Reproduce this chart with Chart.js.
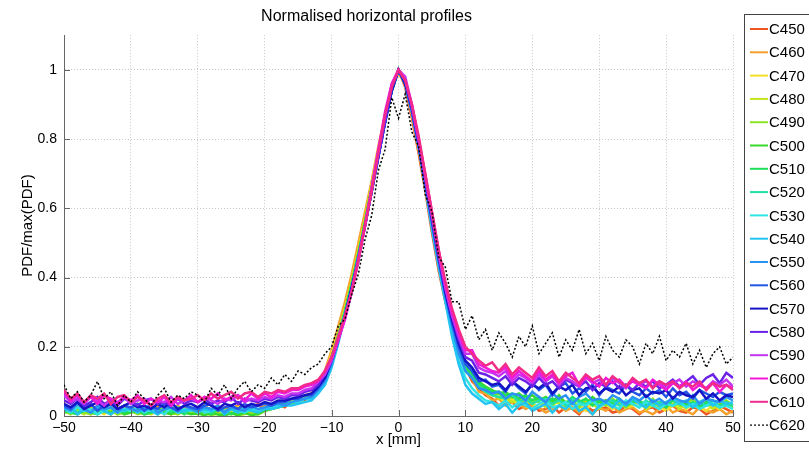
<!DOCTYPE html>
<html>
<head>
<meta charset="utf-8">
<script src="https://cdn.jsdelivr.net/npm/chart.js@4.4.1/dist/chart.umd.min.js"></script>
<style>
  body { margin: 0; background: #fff; }
  #wrap { width: 809px; height: 454px; }
</style>
</head>
<body>
<div id="wrap"><canvas id="chart"></canvas></div>
<script>
// x positions [mm]
const xMm = [
  -50,-49,-48,-47,-46,-45,-44,-43,-42,-41,
  -40,-39,-38,-37,-36,-35,-34,-33,-32,-31,
  -30,-29,-28,-27,-26,-25,-24,-23,-22,-21,
  -20,-19,-18,-17,-16,-15,-14,-13,-12,-11,
  -10,-9,-8,-7,-6,-5,-4,-3,-2,-1,
  0,
  1,2,3,4,5,6,7,8,9,10,
  11,12,13,14,15,16,17,18,19,20,
  21,22,23,24,25,26,27,28,29,30,
  31,32,33,34,35,36,37,38,39,40,
  41,42,43,44,45,46,47,48,49,50
];

const seriesNames = ['C450','C460','C470','C480','C490','C500','C510','C520','C530',
  'C540','C550','C560','C570','C580','C590','C600','C610','C620'];

const c450 = [
  0.03,0.02,0.035,0.01,0.015,0.03,0.025,0.005,0.02,0.03,
  0.015,0.025,0.01,0.02,0.03,0.015,0.005,0.02,0.025,0.01,
  0.02,0.03,0.015,0.01,0.025,0.02,0.03,0.01,0.02,0.035,
  0.02,0.03,0.035,0.025,0.04,0.05,0.045,0.065,0.08,0.12,
  0.18,0.25,0.32,0.40,0.48,0.58,0.67,0.77,0.86,0.95,
  1.00,
  0.95,0.86,0.76,0.65,0.53,0.42,0.33,0.25,0.19,0.14,
  0.10,0.08,0.06,0.05,0.03,0.045,0.04,0.02,0.03,0.035,
  0.015,0.02,0.03,0.01,0.025,0.02,0.005,0.03,0.015,0.02,
  0.025,0.01,0.015,0.03,0.02,0.005,0.02,0.025,0.01,0.02,
  0.03,0.015,0.01,0.025,0.02,0.005,0.015,0.03,0.02,0.01
];
const c460 = [
  0.025,0.01,0.03,0.02,0.005,0.025,0.03,0.015,0.01,0.025,
  0.02,0.035,0.01,0.015,0.025,0.005,0.02,0.03,0.015,0.02,
  0.01,0.025,0.02,0.03,0.01,0.015,0.03,0.02,0.025,0.015,
  0.03,0.025,0.04,0.035,0.045,0.04,0.06,0.065,0.09,0.13,
  0.19,0.26,0.33,0.41,0.50,0.59,0.68,0.78,0.87,0.95,
  0.99,
  0.96,0.87,0.77,0.66,0.55,0.43,0.34,0.26,0.19,0.14,
  0.11,0.07,0.065,0.045,0.05,0.03,0.04,0.035,0.02,0.03,
  0.025,0.01,0.02,0.03,0.015,0.025,0.01,0.02,0.005,0.025,
  0.015,0.03,0.01,0.02,0.025,0.01,0.015,0.005,0.02,0.03,
  0.01,0.02,0.015,0.005,0.025,0.015,0.01,0.02,0.005,0.015
];
const c470 = [
  0.015,0.025,0.01,0.02,0.03,0.015,0.005,0.02,0.025,0.01,
  0.02,0.015,0.03,0.01,0.02,0.025,0.005,0.015,0.02,0.01,
  0.025,0.015,0.01,0.02,0.005,0.015,0.025,0.01,0.02,0.015,
  0.025,0.03,0.03,0.04,0.04,0.05,0.055,0.065,0.08,0.12,
  0.18,0.24,0.31,0.39,0.48,0.57,0.67,0.77,0.86,0.94,
  1.00,
  0.96,0.88,0.78,0.67,0.56,0.45,0.35,0.27,0.20,0.15,
  0.12,0.09,0.07,0.06,0.055,0.04,0.05,0.03,0.045,0.035,
  0.025,0.04,0.03,0.045,0.02,0.035,0.03,0.015,0.04,0.03,
  0.035,0.02,0.045,0.025,0.03,0.04,0.02,0.035,0.025,0.015,
  0.03,0.035,0.02,0.04,0.025,0.015,0.03,0.02,0.035,0.025
];
const c480 = [
  0.01,0.02,0.015,0.005,0.025,0.01,0.02,0.015,0.005,0.02,
  0.015,0.01,0.02,0.005,0.015,0.02,0.01,0.005,0.015,0.02,
  0.01,0.005,0.015,0.01,0.02,0.005,0.01,0.015,0.005,0.015,
  0.02,0.025,0.03,0.035,0.04,0.045,0.05,0.06,0.08,0.11,
  0.17,0.24,0.31,0.39,0.47,0.57,0.67,0.77,0.86,0.95,
  1.00,
  0.97,0.88,0.79,0.68,0.57,0.46,0.36,0.27,0.20,0.15,
  0.12,0.085,0.075,0.065,0.05,0.055,0.04,0.05,0.03,0.045,
  0.04,0.025,0.05,0.035,0.03,0.045,0.025,0.04,0.035,0.02,
  0.045,0.03,0.04,0.025,0.035,0.045,0.02,0.03,0.04,0.025,
  0.035,0.02,0.04,0.03,0.025,0.04,0.02,0.035,0.03,0.025
];
const c490 = [
  0.015,0.005,0.02,0.01,0.005,0.015,0.01,0.02,0.005,0.01,
  0.015,0.005,0.01,0.02,0.005,0.015,0.01,0.005,0.015,0.01,
  0.005,0.01,0.002,0.008,0.003,0.01,0.002,0.006,0.012,0.004,
  0.015,0.02,0.025,0.03,0.035,0.04,0.05,0.06,0.08,0.11,
  0.17,0.23,0.30,0.38,0.47,0.56,0.66,0.76,0.86,0.94,
  1.00,
  0.97,0.89,0.79,0.68,0.57,0.46,0.36,0.27,0.20,0.15,
  0.12,0.09,0.08,0.06,0.065,0.05,0.055,0.045,0.06,0.035,
  0.05,0.04,0.03,0.055,0.04,0.045,0.025,0.05,0.035,0.04,
  0.03,0.05,0.035,0.025,0.045,0.04,0.03,0.05,0.025,0.04,
  0.045,0.03,0.035,0.05,0.025,0.04,0.035,0.03,0.045,0.03
];
const c500 = [
  0.01,0.015,0.005,0.02,0.01,0.005,0.015,0.01,0.02,0.005,
  0.01,0.015,0.005,0.01,0.02,0.01,0.005,0.015,0.01,0.005,
  0.008,0.002,0.01,0.004,0.002,0.008,0.003,0.01,0.002,0.006,
  0.015,0.02,0.025,0.03,0.04,0.04,0.05,0.06,0.08,0.12,
  0.17,0.23,0.30,0.38,0.47,0.56,0.66,0.76,0.85,0.94,
  1.00,
  0.97,0.89,0.80,0.69,0.58,0.47,0.37,0.28,0.21,0.15,
  0.13,0.10,0.085,0.075,0.065,0.07,0.055,0.065,0.05,0.06,
  0.045,0.055,0.04,0.06,0.035,0.05,0.045,0.03,0.055,0.04,
  0.045,0.035,0.05,0.03,0.045,0.04,0.025,0.045,0.035,0.04,
  0.03,0.045,0.035,0.025,0.04,0.03,0.045,0.025,0.035,0.03
];
const c510 = [
  0.02,0.01,0.005,0.015,0.02,0.01,0.015,0.005,0.02,0.01,
  0.015,0.02,0.005,0.01,0.015,0.02,0.01,0.015,0.005,0.02,
  0.01,0.015,0.005,0.02,0.01,0.005,0.015,0.01,0.02,0.01,
  0.02,0.025,0.03,0.035,0.04,0.045,0.05,0.06,0.085,0.12,
  0.17,0.23,0.30,0.38,0.46,0.56,0.66,0.76,0.85,0.94,
  1.00,
  0.96,0.89,0.79,0.68,0.57,0.46,0.36,0.27,0.20,0.14,
  0.12,0.095,0.08,0.07,0.07,0.06,0.065,0.05,0.06,0.045,
  0.055,0.04,0.05,0.045,0.035,0.055,0.04,0.05,0.03,0.045,
  0.04,0.035,0.05,0.03,0.04,0.045,0.03,0.04,0.035,0.025,
  0.045,0.035,0.03,0.04,0.025,0.04,0.035,0.03,0.04,0.03
];
const c520 = [
  0.015,0.025,0.01,0.02,0.015,0.005,0.02,0.025,0.01,0.015,
  0.02,0.01,0.025,0.015,0.005,0.02,0.015,0.025,0.01,0.02,
  0.015,0.02,0.01,0.025,0.015,0.02,0.01,0.015,0.025,0.015,
  0.02,0.03,0.03,0.035,0.04,0.045,0.05,0.055,0.08,0.11,
  0.16,0.23,0.30,0.37,0.46,0.55,0.65,0.75,0.85,0.94,
  1.00,
  0.96,0.88,0.78,0.67,0.56,0.45,0.35,0.26,0.19,0.13,
  0.11,0.085,0.07,0.06,0.055,0.05,0.06,0.04,0.05,0.035,
  0.045,0.05,0.035,0.045,0.03,0.05,0.04,0.035,0.045,0.03,
  0.04,0.045,0.03,0.04,0.035,0.025,0.045,0.03,0.04,0.035,
  0.03,0.04,0.025,0.035,0.04,0.03,0.035,0.025,0.04,0.03
];
const c530 = [
  0.02,0.01,0.025,0.015,0.02,0.005,0.015,0.025,0.01,0.02,
  0.015,0.025,0.01,0.02,0.015,0.005,0.025,0.01,0.02,0.015,
  0.025,0.01,0.015,0.02,0.01,0.025,0.015,0.01,0.02,0.015,
  0.02,0.025,0.03,0.03,0.04,0.04,0.05,0.05,0.07,0.10,
  0.15,0.22,0.29,0.37,0.46,0.55,0.65,0.75,0.85,0.94,
  1.00,
  0.96,0.88,0.78,0.67,0.55,0.44,0.34,0.24,0.16,0.11,
  0.08,0.06,0.045,0.04,0.03,0.045,0.025,0.04,0.03,0.02,
  0.035,0.045,0.025,0.03,0.04,0.02,0.035,0.03,0.045,0.025,
  0.04,0.03,0.02,0.045,0.035,0.025,0.04,0.03,0.02,0.035,
  0.03,0.04,0.025,0.035,0.02,0.03,0.04,0.025,0.03,0.02
];
const c540 = [
  0.015,0.025,0.005,0.02,0.01,0.025,0.015,0.005,0.02,0.015,
  0.025,0.01,0.02,0.015,0.005,0.02,0.025,0.01,0.015,0.02,
  0.01,0.02,0.015,0.025,0.005,0.02,0.01,0.025,0.015,0.01,
  0.02,0.02,0.025,0.03,0.03,0.035,0.04,0.045,0.065,0.09,
  0.14,0.21,0.29,0.37,0.46,0.55,0.65,0.75,0.85,0.94,
  1.00,
  0.96,0.88,0.78,0.66,0.54,0.43,0.33,0.23,0.15,0.09,
  0.065,0.05,0.035,0.04,0.02,0.035,0.01,0.03,0.04,0.015,
  0.025,0.035,0.01,0.03,0.02,0.04,0.015,0.025,0.005,0.03,
  0.04,0.025,0.045,0.03,0.05,0.035,0.025,0.045,0.03,0.04,
  0.05,0.035,0.045,0.025,0.04,0.05,0.03,0.045,0.035,0.04
];
const c550 = [
  0.025,0.015,0.035,0.02,0.01,0.03,0.02,0.025,0.01,0.03,
  0.02,0.015,0.025,0.03,0.01,0.02,0.025,0.015,0.03,0.02,
  0.015,0.025,0.02,0.03,0.01,0.025,0.02,0.015,0.03,0.02,
  0.025,0.03,0.035,0.03,0.04,0.045,0.05,0.055,0.075,0.10,
  0.15,0.22,0.29,0.37,0.46,0.55,0.65,0.75,0.85,0.94,
  1.00,
  0.96,0.88,0.78,0.67,0.56,0.45,0.35,0.26,0.18,0.13,
  0.11,0.08,0.075,0.065,0.07,0.05,0.065,0.06,0.045,0.07,
  0.055,0.04,0.065,0.05,0.06,0.035,0.055,0.065,0.045,0.05,
  0.04,0.06,0.05,0.035,0.055,0.045,0.06,0.04,0.05,0.035,
  0.055,0.045,0.04,0.06,0.035,0.05,0.045,0.04,0.055,0.045
];
const c560 = [
  0.03,0.02,0.04,0.025,0.035,0.015,0.03,0.04,0.02,0.03,
  0.025,0.035,0.015,0.03,0.02,0.035,0.025,0.015,0.03,0.025,
  0.02,0.03,0.035,0.015,0.025,0.03,0.02,0.035,0.025,0.03,
  0.035,0.03,0.04,0.04,0.05,0.05,0.06,0.06,0.08,0.11,
  0.16,0.22,0.29,0.37,0.46,0.55,0.65,0.75,0.85,0.94,
  1.00,
  0.96,0.88,0.78,0.67,0.56,0.45,0.35,0.27,0.20,0.15,
  0.13,0.10,0.105,0.085,0.09,0.07,0.10,0.08,0.065,0.095,
  0.075,0.09,0.06,0.085,0.095,0.065,0.08,0.07,0.09,0.06,
  0.085,0.075,0.065,0.09,0.07,0.06,0.08,0.065,0.075,0.055,
  0.08,0.06,0.07,0.05,0.075,0.065,0.055,0.07,0.06,0.065
];
const c570 = [
  0.035,0.025,0.04,0.02,0.03,0.04,0.025,0.035,0.02,0.03,
  0.04,0.025,0.03,0.02,0.035,0.025,0.04,0.02,0.03,0.035,
  0.025,0.04,0.03,0.02,0.035,0.03,0.04,0.025,0.035,0.03,
  0.04,0.035,0.045,0.045,0.05,0.055,0.06,0.065,0.085,0.11,
  0.16,0.22,0.29,0.37,0.45,0.55,0.65,0.75,0.85,0.94,
  1.00,
  0.96,0.89,0.79,0.68,0.57,0.46,0.36,0.28,0.21,0.16,
  0.14,0.11,0.10,0.09,0.095,0.075,0.10,0.085,0.07,0.09,
  0.08,0.095,0.065,0.085,0.075,0.09,0.06,0.08,0.085,0.065,
  0.08,0.07,0.085,0.06,0.075,0.08,0.055,0.07,0.065,0.075,
  0.05,0.07,0.06,0.055,0.075,0.05,0.065,0.045,0.06,0.055
];
const c580 = [
  0.045,0.035,0.05,0.03,0.04,0.055,0.035,0.045,0.03,0.05,
  0.04,0.03,0.045,0.05,0.035,0.04,0.03,0.05,0.035,0.045,
  0.04,0.05,0.035,0.045,0.04,0.055,0.035,0.05,0.045,0.04,
  0.05,0.045,0.055,0.05,0.06,0.06,0.07,0.075,0.09,0.12,
  0.16,0.22,0.29,0.36,0.45,0.55,0.65,0.75,0.85,0.95,
  1.00,
  0.97,0.89,0.79,0.68,0.57,0.46,0.37,0.29,0.22,0.17,
  0.16,0.125,0.12,0.11,0.10,0.115,0.09,0.11,0.10,0.085,
  0.11,0.09,0.10,0.08,0.105,0.095,0.085,0.10,0.075,0.095,
  0.085,0.10,0.08,0.09,0.075,0.095,0.085,0.10,0.08,0.09,
  0.105,0.085,0.10,0.115,0.09,0.11,0.12,0.095,0.125,0.11
];
const c590 = [
  0.06,0.04,0.05,0.035,0.055,0.045,0.03,0.05,0.04,0.055,
  0.035,0.045,0.05,0.03,0.045,0.04,0.055,0.035,0.045,0.05,
  0.04,0.055,0.045,0.035,0.05,0.045,0.06,0.04,0.05,0.045,
  0.055,0.05,0.06,0.055,0.065,0.065,0.075,0.08,0.10,0.12,
  0.16,0.22,0.28,0.36,0.45,0.55,0.66,0.77,0.87,0.96,
  1.00,
  0.98,0.90,0.80,0.69,0.58,0.47,0.37,0.29,0.23,0.18,
  0.18,0.14,0.13,0.125,0.115,0.13,0.10,0.12,0.11,0.095,
  0.12,0.10,0.115,0.09,0.11,0.10,0.085,0.115,0.095,0.105,
  0.09,0.11,0.095,0.08,0.105,0.09,0.10,0.085,0.10,0.08,
  0.095,0.105,0.085,0.10,0.09,0.08,0.10,0.09,0.105,0.085
];
const c600 = [
  0.07,0.045,0.06,0.04,0.055,0.035,0.06,0.05,0.035,0.055,
  0.045,0.06,0.035,0.05,0.04,0.055,0.03,0.05,0.045,0.06,
  0.04,0.055,0.05,0.065,0.045,0.055,0.06,0.045,0.065,0.05,
  0.065,0.055,0.07,0.065,0.075,0.075,0.085,0.09,0.10,0.13,
  0.17,0.22,0.28,0.36,0.45,0.55,0.66,0.77,0.88,0.96,
  1.00,
  0.97,0.90,0.80,0.70,0.59,0.48,0.38,0.30,0.24,0.19,
  0.19,0.15,0.14,0.13,0.125,0.14,0.11,0.13,0.115,0.10,
  0.13,0.105,0.12,0.095,0.115,0.125,0.09,0.11,0.10,0.085,
  0.11,0.095,0.105,0.085,0.10,0.09,0.08,0.105,0.09,0.075,
  0.095,0.085,0.10,0.075,0.09,0.08,0.095,0.07,0.09,0.08
];
const c610 = [
  0.075,0.05,0.065,0.04,0.06,0.05,0.065,0.035,0.055,0.06,
  0.04,0.055,0.045,0.03,0.05,0.06,0.04,0.055,0.045,0.05,
  0.06,0.045,0.065,0.05,0.06,0.07,0.05,0.065,0.07,0.055,
  0.07,0.065,0.075,0.07,0.08,0.08,0.09,0.095,0.105,0.13,
  0.17,0.23,0.29,0.36,0.45,0.55,0.65,0.76,0.87,0.95,
  1.00,
  0.97,0.90,0.81,0.70,0.59,0.48,0.39,0.31,0.25,0.20,
  0.18,0.16,0.145,0.155,0.13,0.15,0.12,0.14,0.125,0.11,
  0.14,0.115,0.13,0.10,0.125,0.11,0.095,0.12,0.105,0.115,
  0.09,0.115,0.10,0.085,0.11,0.095,0.105,0.08,0.10,0.09,
  0.10,0.08,0.095,0.085,0.10,0.075,0.095,0.085,0.09,0.075
];
const c620 = [
  0.09,0.05,0.07,0.04,0.06,0.10,0.05,0.07,0.03,0.06,
  0.04,0.07,0.05,0.03,0.06,0.08,0.04,0.06,0.05,0.07,
  0.06,0.04,0.08,0.06,0.09,0.05,0.08,0.10,0.07,0.09,
  0.08,0.11,0.09,0.12,0.10,0.13,0.12,0.14,0.15,0.18,
  0.20,0.26,0.28,0.35,0.41,0.51,0.58,0.71,0.77,0.92,
  0.86,
  0.93,0.82,0.78,0.64,0.59,0.46,0.43,0.33,0.33,0.25,
  0.29,0.22,0.25,0.19,0.24,0.21,0.17,0.23,0.20,0.26,
  0.18,0.21,0.24,0.17,0.22,0.19,0.25,0.18,0.21,0.16,
  0.23,0.19,0.17,0.22,0.20,0.15,0.21,0.18,0.23,0.16,
  0.19,0.17,0.21,0.15,0.19,0.14,0.18,0.20,0.15,0.17
];

const seriesValues = [c450, c460, c470, c480, c490, c500, c510, c520, c530,
  c540, c550, c560, c570, c580, c590, c600, c610, c620];

const seriesColors = ['#ee5522','#f5a02a','#f2e02a','#c4e41c','#8ce428','#38d82a','#1fe058',
  '#22e0a6','#30e4e4','#22c4f2','#2a92f2','#2456e6','#1414c4','#6a22e6','#c434f0',
  '#f218d8','#f22a88','#000000'];

const xTicks = [-50,-40,-30,-20,-10,0,10,20,30,40,50];
const yTicks = [0,0.2,0.4,0.6,0.8,1];

const FONT = 'Liberation Sans, Arial, Helvetica, sans-serif';

let datasets = seriesNames.map((name, i) => ({
  label: name,
  data: xMm.map((x, k) => ({x: x, y: seriesValues[i][k]})),
  borderColor: seriesColors[i],
  backgroundColor: seriesColors[i],
  borderWidth: i === 17 ? 1.5 : 2.5,
  borderDash: i === 17 ? [2, 2] : [],
  pointRadius: 0,
  tension: 0,
  fill: false,
  order: seriesNames.length - i
}));

// MATLAB-like legend box and inward ticks
const extras = {
  id: 'extras',
  afterDraw(chart) {
    const ctx = chart.ctx;
    const area = chart.chartArea;
    const xs = chart.scales.x, ys = chart.scales.y;
    ctx.save();
    ctx.strokeStyle = '#666';
    ctx.lineWidth = 1;
    ctx.beginPath();
    xTicks.forEach(v => {
      const px = Math.round(xs.getPixelForValue(v)) + 0.5;
      ctx.moveTo(px, area.bottom);
      ctx.lineTo(px, area.bottom - 6);
    });
    yTicks.forEach(v => {
      const py = Math.round(ys.getPixelForValue(v)) + 0.5;
      ctx.moveTo(area.left, py);
      ctx.lineTo(area.left + 6, py);
    });
    ctx.stroke();

    // legend
    const lx = 744.5, ly = 14.5, lw = 70, lh = 427;
    ctx.fillStyle = '#fff';
    ctx.fillRect(lx, ly, lw, lh);
    ctx.strokeStyle = '#444';
    ctx.strokeRect(lx, ly, lw, lh);
    ctx.font = '15px ' + FONT;
    ctx.textBaseline = 'middle';
    chart.data.datasets.forEach((ds, i) => {
      const y = 29 + i * 23.3;
      ctx.beginPath();
      ctx.strokeStyle = ds.borderColor;
      ctx.lineWidth = i === 17 ? 1.2 : 2;
      ctx.setLineDash(ds.borderDash);
      ctx.moveTo(750, y);
      ctx.lineTo(768, y);
      ctx.stroke();
      ctx.setLineDash([]);
      ctx.fillStyle = '#000';
      ctx.fillText(ds.label, 769, y + 1);
    });
    ctx.restore();
  }
};

new Chart(document.getElementById('chart'), {
  type: 'line',
  data: { datasets: datasets },
  options: {
    responsive: true,
    maintainAspectRatio: false,
    animation: false,
    layout: { padding: { left: 0, right: 76, top: 0, bottom: 0 } },
    plugins: {
      legend: { display: false },
      tooltip: { enabled: false },
      title: {
        display: true,
        text: 'Normalised horizontal profiles',
        color: '#000',
        font: { family: FONT, size: 16, weight: 'normal' },
        padding: { top: 7, bottom: 9 }
      }
    },
    scales: {
      x: {
        type: 'linear',
        min: -50,
        max: 50,
        afterFit: s => { s.height = 38; },
        afterBuildTicks: s => { s.ticks = xTicks.map(v => ({value: v})); },
        ticks: {
          color: '#000',
          padding: 4,
          maxRotation: 0,
          font: { family: FONT, size: 14 },
          callback: v => v < 0 ? '\u2212' + Math.abs(v) : String(v)
        },
        grid: { color: '#c8c8c8', drawTicks: false, lineWidth: 1 },
        border: { display: true, color: '#666', width: 1, dash: [1, 2] },
        title: {
          display: true,
          text: 'x [mm]',
          color: '#000',
          font: { family: FONT, size: 15 },
          padding: { top: 0, bottom: 5 }
        }
      },
      y: {
        min: 0,
        max: 1.1,
        afterFit: s => { s.width = 64; },
        afterBuildTicks: s => { s.ticks = yTicks.map(v => ({value: v})); },
        ticks: {
          color: '#000',
          padding: 7,
          font: { family: FONT, size: 14 },
          callback: v => String(v)
        },
        grid: { color: '#c8c8c8', drawTicks: false, lineWidth: 1 },
        border: { display: true, color: '#666', width: 1, dash: [1, 2] },
        title: {
          display: true,
          text: 'PDF/max(PDF)',
          color: '#000',
          font: { family: FONT, size: 15 },
          padding: { top: 19, bottom: 0 }
        }
      }
    }
  },
  plugins: [extras]
});
</script>
</body>
</html>
